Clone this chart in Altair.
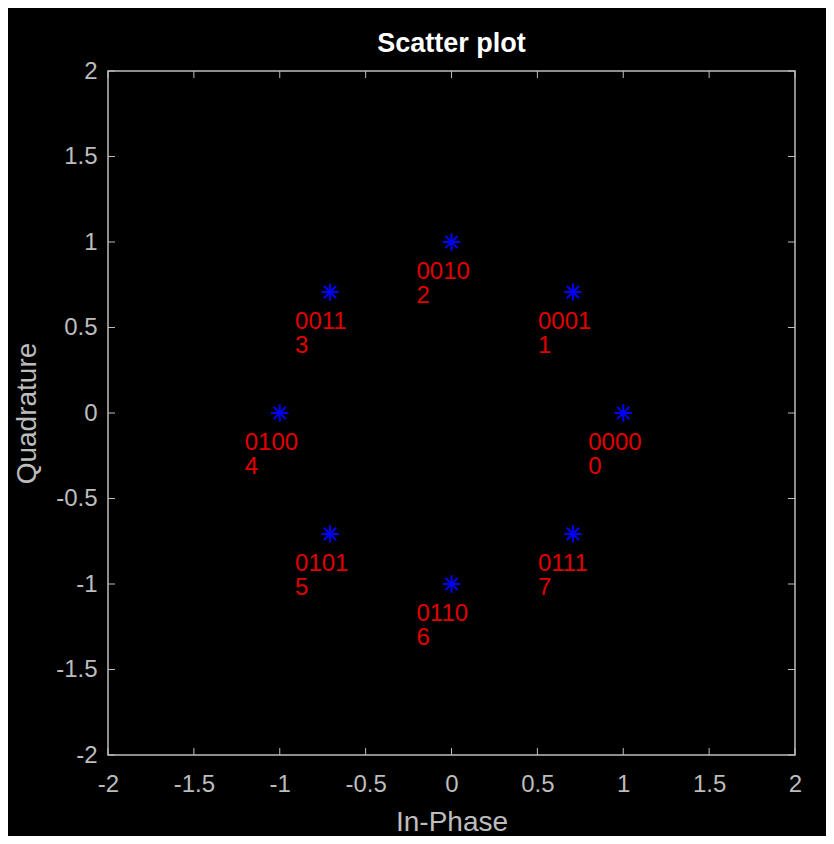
import altair as alt
import pandas as pd

# 8-PSK constellation
i_vals = [1.0, 0.7071, 0.0, -0.7071, -1.0, -0.7071, 0.0, 0.7071]
q_vals = [0.0, 0.7071, 1.0, 0.7071, 0.0, -0.7071, -1.0, -0.7071]
bit_labels = ["0000", "0001", "0010", "0011", "0100", "0101", "0110", "0111"]
sym_labels = ["0", "1", "2", "3", "4", "5", "6", "7"]
tick_vals = [-2, -1.5, -1, -0.5, 0, 0.5, 1, 1.5, 2]

W, H = 687, 684
FONT = "Liberation Sans"
GREY = "#bdbdbd"
TICK = 7

pts = pd.DataFrame({
    "I": i_vals,
    "Q": q_vals,
    "label": [b + "\n" + s for b, s in zip(bit_labels, sym_labels)],
})
ticks = pd.DataFrame({"I": tick_vals, "Q": tick_vals})

xs = alt.Scale(domain=[-2, 2], nice=False, zero=False)
ys = alt.Scale(domain=[-2, 2], nice=False, zero=False)

star = ("M-1,0L1,0M0,-1L0,1M-0.7071,-0.7071L0.7071,0.7071"
        "M-0.7071,0.7071L0.7071,-0.7071")

x_axis = alt.Axis(values=tick_vals, title="In-Phase", labelExpr="'' + datum.value",
                  domain=False, ticks=False, grid=False, labelPadding=17,
                  labelFlush=False, labelOverlap=False,
                  labelFontSize=24, labelFont=FONT, labelColor=GREY,
                  titleFont=FONT, titleFontSize=28, titleFontWeight="normal",
                  titleColor=GREY, titleX=W / 2, titleY=67, titleBaseline="middle")
y_axis = alt.Axis(values=tick_vals, title="Quadrature", labelExpr="'' + datum.value",
                  domain=False, ticks=False, grid=False, labelPadding=11,
                  labelFlush=False, labelOverlap=False,
                  labelFontSize=24, labelFont=FONT, labelColor=GREY,
                  titleFont=FONT, titleFontSize=28, titleFontWeight="normal",
                  titleColor=GREY, titleX=-81, titleY=H / 2, titleBaseline="middle")

X = alt.X("I:Q", scale=xs, axis=x_axis)
Y = alt.Y("Q:Q", scale=ys, axis=y_axis)

points = alt.Chart(pts).mark_point(
    shape=star, size=300, color="#0000ff", strokeWidth=2, filled=False, opacity=1
).encode(x=X, y=Y)

texts = alt.Chart(pts).mark_text(
    align="left", baseline="middle", dx=-35, dy=30, fontSize=24, font=FONT,
    color="#e00000", lineBreak="\n", lineHeight=24
).encode(x=X, y=Y, text="label:N")

rule_style = dict(color=GREY, strokeWidth=1)
t_bottom = alt.Chart(ticks).mark_rule(**rule_style).encode(
    x=X, y=alt.value(H), y2=alt.value(H - TICK))
t_top = alt.Chart(ticks).mark_rule(**rule_style).encode(
    x=X, y=alt.value(0), y2=alt.value(TICK))
t_left = alt.Chart(ticks).mark_rule(**rule_style).encode(
    y=Y, x=alt.value(0), x2=alt.value(TICK))
t_right = alt.Chart(ticks).mark_rule(**rule_style).encode(
    y=Y, x=alt.value(W), x2=alt.value(W - TICK))

chart = alt.layer(points, texts, t_bottom, t_top, t_left, t_right).properties(
    width=W, height=H,
    title=alt.TitleParams("Scatter plot", font=FONT, fontSize=27, fontWeight="bold",
                          color="#ffffff", anchor="middle", frame="group",
                          baseline="alphabetic", offset=-20),
    padding={"left": 100, "top": 63, "right": 31, "bottom": 81},
    autosize=alt.AutoSizeParams(type="none"),
).configure(background="#000000").configure_view(stroke=GREY, strokeWidth=1.5)

chart.save("out.html", embed_options={"renderer": "svg", "actions": False})
